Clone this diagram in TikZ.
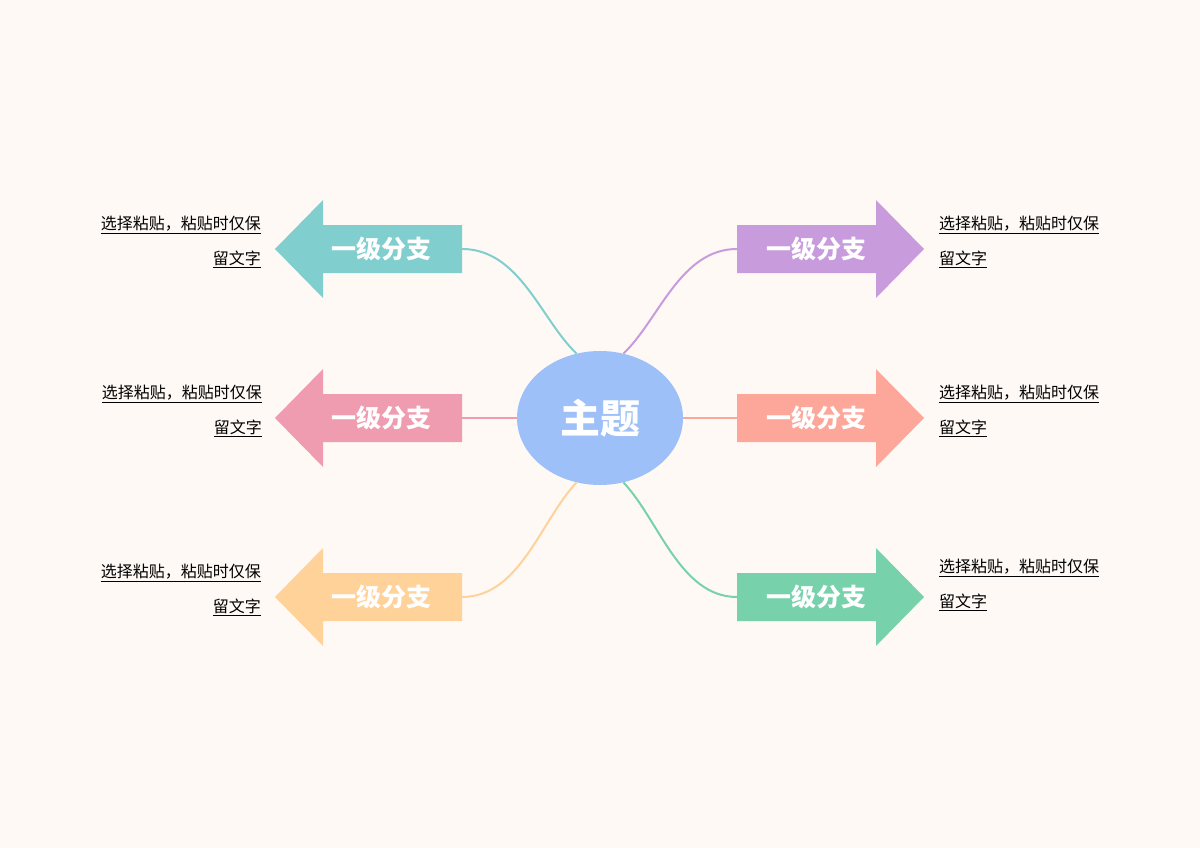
\documentclass[tikz,border=0pt]{standalone}
\usepackage{fontspec}
\setmainfont{Noto Sans CJK SC}
\usetikzlibrary{positioning,shapes.geometric}
\definecolor{bgcol}{HTML}{FEF9F5}
\definecolor{topiccol}{HTML}{9CC0F7}
\definecolor{tealcol}{HTML}{80CECE}
\definecolor{pinkcol}{HTML}{F09CB0}
\definecolor{orangecol}{HTML}{FFD29A}
\definecolor{purplecol}{HTML}{C89BDD}
\definecolor{salmoncol}{HTML}{FDA69A}
\definecolor{greencol}{HTML}{77D2AB}
\newcommand{\rarrow}[3]{% colour, name, y
\fill [#1] (737,#3-24) -- (876,#3-24) -- (876,#3-49) -- (924,#3) -- (876,#3+49) -- (876,#3+24) -- (737,#3+24) -- cycle;
\node [branch] (#2) at (816,#3) {一级分支};
\coordinate (#2e) at (737,#3);}
\newcommand{\larrow}[3]{% colour, name, y
\fill [#1] (462,#3-24) -- (323,#3-24) -- (323,#3-49) -- (275,#3) -- (323,#3+49) -- (323,#3+24) -- (462,#3+24) -- cycle;
\node [branch] (#2) at (381,#3) {一级分支};
\coordinate (#2e) at (462,#3);}
\newcommand{\uline}[1]{\underline{#1}}
\begin{document}
\begin{tikzpicture}[x=1pt,y=-1pt]
\tikzset{branch/.style={text=white,font=\fontsize{25}{25}\selectfont\bfseries,inner sep=0pt},
  note/.style={font=\fontsize{16}{35}\selectfont,inner sep=0pt,text width=175pt},
  link/.style={line width=2pt}}
\fill [bgcol] (0,0) rectangle (1200,848);
\useasboundingbox (0,0) rectangle (1200,848);
% topic
\node [ellipse,fill=topiccol,minimum width=166pt,minimum height=134pt,inner sep=0pt,
  text=white,font=\fontsize{40}{40}\selectfont\bfseries] (topic) at (600,418) {主题};
% branches
\larrow{tealcol}{lt}{249}
\larrow{pinkcol}{lm}{418}
\larrow{orangecol}{lb}{597}
\rarrow{purplecol}{rt}{249}
\rarrow{salmoncol}{rm}{418}
\rarrow{greencol}{rb}{597}
% connectors
\draw [link,tealcol] (lte) .. controls (520,249) and (541,320) .. (topic.110);
\draw [link,pinkcol] (lme) -- (topic.west);
\draw [link,orangecol] (lbe) .. controls (520,597) and (541,520) .. (topic.250);
\draw [link,purplecol] (rte) .. controls (680,249) and (659,320) .. (topic.70);
\draw [link,salmoncol] (rme) -- (topic.east);
\draw [link,greencol] (rbe) .. controls (680,597) and (659,520) .. (topic.290);
% notes
\node [note,align=right,anchor=north east] (ltn) at (261,216) {\uline{选择粘贴，粘贴时仅保}\\\uline{留文字}};
\node [note,align=right,anchor=north east] (lmn) at (262,385) {\uline{选择粘贴，粘贴时仅保}\\\uline{留文字}};
\node [note,align=right,anchor=north east] (lbn) at (261,564) {\uline{选择粘贴，粘贴时仅保}\\\uline{留文字}};
\node [note,align=left,anchor=north west] (rtn) at (939,216) {\uline{选择粘贴，粘贴时仅保}\\\uline{留文字}};
\node [note,align=left,anchor=north west] (rmn) at (939,385) {\uline{选择粘贴，粘贴时仅保}\\\uline{留文字}};
\node [note,align=left,anchor=north west] (rbn) at (939,559) {\uline{选择粘贴，粘贴时仅保}\\\uline{留文字}};
\end{tikzpicture}
\end{document}
